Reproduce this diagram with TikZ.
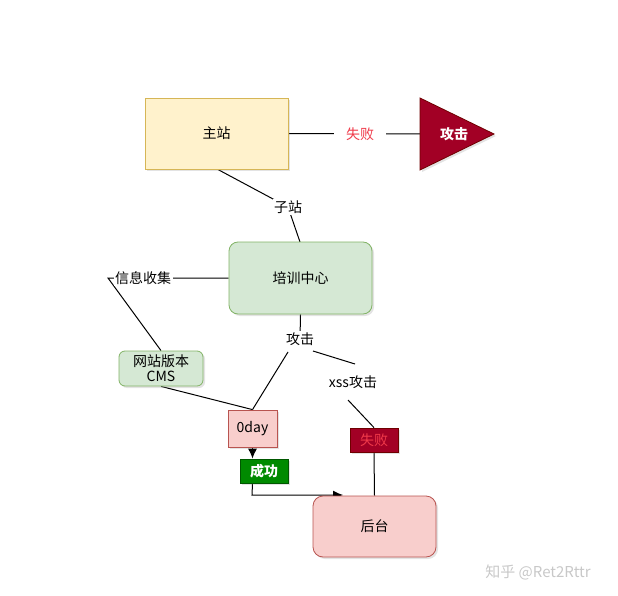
\documentclass[tikz,border=0pt]{standalone}
\usepackage{fontspec}
\setmainfont{Noto Sans CJK SC}
\usetikzlibrary{arrows.meta,shadows,backgrounds}
\definecolor{ylwF}{HTML}{FFF2CC}\definecolor{ylwD}{HTML}{D6B656}
\definecolor{grnF}{HTML}{D5E8D4}\definecolor{grnD}{HTML}{82B366}
\definecolor{redF}{HTML}{F8CECC}\definecolor{redD}{HTML}{B85450}
\definecolor{dkred}{HTML}{A20025}\definecolor{dkredD}{HTML}{6F0000}
\definecolor{okF}{HTML}{008A00}\definecolor{okD}{HTML}{005700}
\definecolor{failT}{HTML}{F03A4A}
\definecolor{wm}{HTML}{C8C8C8}
\tikzset{
  base/.style={draw, line width=0.8pt, inner sep=0pt, align=center, font=\fontsize{14}{16}\selectfont,
    drop shadow={opacity=0.22, shadow xshift=2pt, shadow yshift=-2pt}},
  yel/.style={base, fill=ylwF, draw=ylwD},
  grn/.style={base, fill=grnF, draw=grnD, rounded corners=9pt},
  rd/.style={base, fill=redF, draw=redD},
  lbl/.style={fill=white, inner sep=1.5pt, font=\fontsize{14}{16}\selectfont},
  ln/.style={line width=1pt, black},
  arr/.style={ln, -{Latex[length=10pt,width=9pt]}}
}
\begin{document}
\begin{tikzpicture}[x=1pt,y=-1pt]
\useasboundingbox (0,0) rectangle (618,596);
% nodes
\node[yel, minimum width=143pt, minimum height=71pt] (zz) at (216.5,133.5) {主站};
\path[draw=dkredD, fill=dkred, line width=0.8pt, drop shadow={opacity=0.22, shadow xshift=2pt, shadow yshift=-2pt}]
  (420,98) coordinate (tA) -- (494,134) coordinate (tC) -- (420,170) coordinate (tB) -- cycle;
\coordinate (tri) at (420,134);
\node[text=white, font=\fontsize{14}{16}\selectfont\bfseries] (gj) at (454,134) {攻击};
\node[grn, minimum width=143pt, minimum height=72pt] (px) at (300.5,278) {培训中心};
\node[grn, rounded corners=6pt, minimum width=84pt, minimum height=35pt, font=\fontsize{14}{15}\selectfont] (cms) at (161,368.5) {网站版本\\CMS};
\node[rd, minimum width=49pt, minimum height=37pt] (oday) at (252.5,428.5) {0day};
\node[base, fill=okF, draw=okD, text=white, minimum width=48pt, minimum height=24pt, font=\fontsize{14}{16}\selectfont\bfseries] (cg) at (264,471) {成功};
\node[base, fill=dkred, draw=dkredD, text=failT, minimum width=48pt, minimum height=24pt] (sb) at (374,440) {失败};
\node[rd, rounded corners=10pt, minimum width=123pt, minimum height=61pt] (ht) at (374.5,526.5) {后台};
% labels
\node[lbl, text=failT, inner xsep=12pt] (l1) at (360,134) {失败};
\node[lbl] (l2) at (288,207) {子站};
\node[lbl] (l3) at (143,278) {信息收集};
\node[lbl] (l4) at (300,339) {攻击};
\node[lbl] (l5) at (353,382) {xss攻击};
\node[text=wm, font=\fontsize{15}{17}\selectfont] (wmk) at (538,572) {知乎 @Ret2Rttr};
% waypoints
\coordinate (w1) at (108,278);
\coordinate (w2) at (252,495);
\coordinate (w3) at (343,495);
% connectors (behind)
\begin{scope}[on background layer]
\draw[ln] (zz.east) -- (tri);
\draw[ln] (217,169) -- (l2.center) -- (300,242);
\draw[ln] (px.west) -- (w1) -- (cms.north);
\draw[ln] (px.south) -- (l4.center);
\draw[ln] (288,352) -- (oday.north);
\draw[ln] (313,351) -- (355,364);
\draw[ln] (348,400) -- (sb.north);
\draw[ln] (cms.south) -- (oday.north);
\draw[ln] (sb.south) -- (ht.north);
\draw[arr] (oday.south) -- (cg.north -| oday.south);
\draw[arr] (cg.south -| oday.south) -- (w2) -- (w3);
\end{scope}
\end{tikzpicture}
\end{document}
